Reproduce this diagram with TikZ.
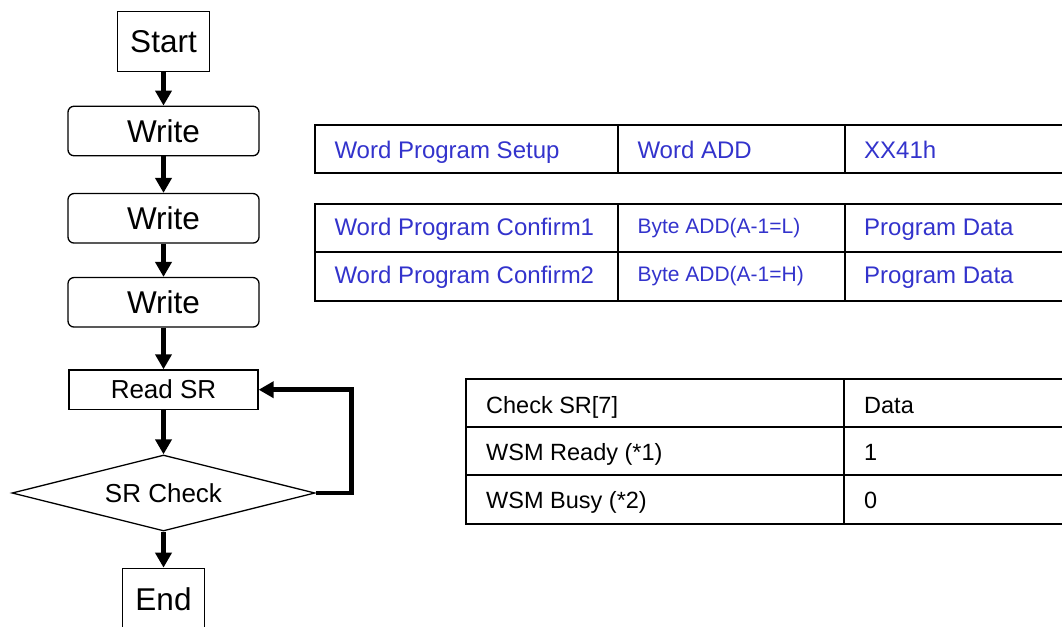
\documentclass[tikz,border=0pt]{standalone}
\usepackage{fontspec}
\setmainfont{Liberation Sans}
\usetikzlibrary{shapes.geometric, arrows.meta, positioning}

\definecolor{cmdblue}{RGB}{51,51,204}

\begin{document}
\begin{tikzpicture} [
    x=1pt, y=-1pt,
    stepbox/.style={rectangle, draw=black, line width=1.3pt, inner sep=0pt, font=\fontsize{31.5}{36}\selectfont},
    writebox/.style={stepbox, rounded corners=6pt, minimum width=191pt, minimum height=49.5pt},
    readbox/.style={stepbox, minimum width=189pt, minimum height=39.5pt, font=\fontsize{26}{30}\selectfont},
    checkbox/.style={diamond, draw=black, line width=1.3pt, inner sep=0pt, aspect=4, minimum width=303pt, minimum height=76pt, font=\fontsize{26}{30}\selectfont},
    arrow/.style={-{Triangle[length=15pt, width=16pt]}, line width=4.5pt},
    cell/.style={rectangle, draw=black, line width=2pt, inner sep=0pt, anchor=north west},
    cmdtext/.style={anchor=base west, inner sep=0pt, text=cmdblue, font=\fontsize{24}{28}\selectfont},
    addrtext/.style={cmdtext, font=\fontsize{21}{24}\selectfont},
    srtext/.style={anchor=base west, inner sep=0pt, font=\fontsize{23.5}{28}\selectfont}
]
\useasboundingbox (0,0) rectangle (1062,626);

% FLOW: boxes from top to bottom
\node[stepbox, minimum width=92.5pt, minimum height=60pt] (start) at (163.5,41.7) {Start};
\node[writebox] (write1) at (163.5,131) {Write};
\node[writebox] (write2) at (163.5,218.3) {Write};
\node[writebox] (write3) at (163.5,302.3) {Write};
\node[readbox] (readsr) at (163.5,389.7) {Read SR};
\node[checkbox] (srcheck) at (163.5,493) {SR Check};
\node[stepbox, minimum width=81.5pt, minimum height=62pt] (finish) at (163.5,599.3) {End};

% FLOW: connections
\draw[arrow] (start) -- (write1);
\draw[arrow] (write1) -- (write2);
\draw[arrow] (write2) -- (write3);
\draw[arrow] (write3) -- (readsr);
\draw[arrow] (readsr) -- (srcheck);
\draw[arrow] (srcheck) -- (finish);
\coordinate (loop) at (351.7,493);
\draw[arrow] (srcheck.east) -- (loop) |- (readsr.east);

% TABLE 1: setup cycle
\node[cell, minimum width=303pt, minimum height=48pt] (setupA) at (314,124) {};
\node[cell, minimum width=227pt, minimum height=48pt] (setupB) at (617,124) {};
\node[cell, minimum width=260pt, minimum height=48pt] (setupC) at (844,124) {};
\node[cmdtext] (setupAt) at (334.3,158.3) {Word Program Setup};
\node[cmdtext] (setupBt) at (637.3,158.3) {Word ADD};
\node[cmdtext] (setupCt) at (864,158.3) {XX41h};

% TABLE 2: confirm cycles
\node[cell, minimum width=303pt, minimum height=48pt] (confAA) at (314,203) {};
\node[cell, minimum width=227pt, minimum height=48pt] (confAB) at (617,203) {};
\node[cell, minimum width=260pt, minimum height=48pt] (confAC) at (844,203) {};
\node[cell, minimum width=303pt, minimum height=49pt] (confBA) at (314,251) {};
\node[cell, minimum width=227pt, minimum height=49pt] (confBB) at (617,251) {};
\node[cell, minimum width=260pt, minimum height=49pt] (confBC) at (844,251) {};
\node[cmdtext] (confAAt) at (334.3,235) {Word Program Confirm1};
\node[addrtext] (confABt) at (637.3,233.3) {Byte ADD(A-1=L)};
\node[cmdtext] (confACt) at (864,235) {Program Data};
\node[cmdtext] (confBAt) at (334.3,283.3) {Word Program Confirm2};
\node[addrtext] (confBBt) at (637.3,281.7) {Byte ADD(A-1=H)};
\node[cmdtext] (confBCt) at (864,283.3) {Program Data};

% TABLE 3: status register bit
\node[cell, minimum width=378pt, minimum height=48pt] (srA) at (465,378) {};
\node[cell, minimum width=260pt, minimum height=48pt] (srB) at (843,378) {};
\node[cell, minimum width=378pt, minimum height=48pt] (readyA) at (465,426) {};
\node[cell, minimum width=260pt, minimum height=48pt] (readyB) at (843,426) {};
\node[cell, minimum width=378pt, minimum height=49pt] (busyA) at (465,474) {};
\node[cell, minimum width=260pt, minimum height=49pt] (busyB) at (843,474) {};
\node[srtext] (srAt) at (486,413.3) {Check SR[7]};
\node[srtext] (srBt) at (864,413.3) {Data};
\node[srtext] (readyAt) at (486,460) {WSM Ready (*1)};
\node[srtext] (readyBt) at (864,460) {1};
\node[srtext] (busyAt) at (486,508.3) {WSM Busy (*2)};
\node[srtext] (busyBt) at (864,508.3) {0};

\end{tikzpicture}
\end{document}
